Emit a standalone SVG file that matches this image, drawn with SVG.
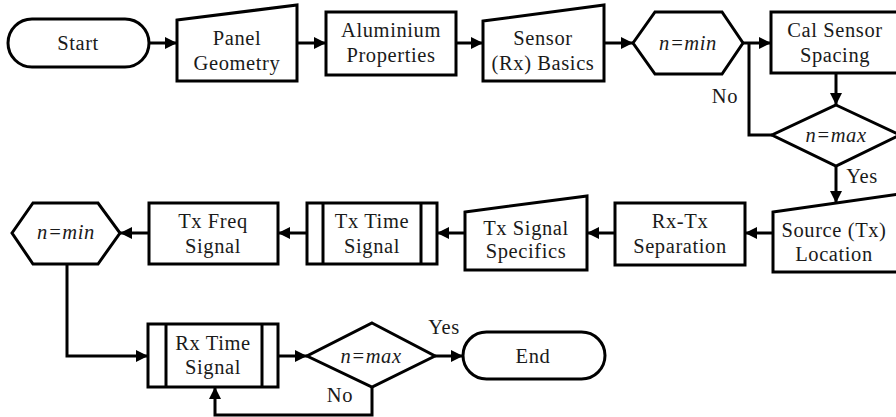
<svg xmlns="http://www.w3.org/2000/svg" width="896" height="417" viewBox="0 0 896 417">
<style>
.s{fill:#fff;stroke:#000;stroke-width:3;stroke-linejoin:miter}
.t{font-family:"Liberation Serif","Times New Roman",serif;font-size:20.5px;letter-spacing:0.6px;fill:#1a1a1a;text-anchor:middle}
.i{font-style:italic}
.l{fill:none;stroke:#000;stroke-width:3}
.a{marker-end:url(#ah)}
</style>
<defs>
<marker id="ah" markerUnits="userSpaceOnUse" markerWidth="13" markerHeight="12" refX="12" refY="6" orient="auto">
<path d="M0,0 L12,6 L0,12 z" fill="#000"/>
</marker>
</defs>
<rect width="896" height="417" fill="#fff"/>
<g id="connectors">
<line class="l a" x1="149" y1="43" x2="177" y2="43"/>
<line class="l a" x1="297" y1="43" x2="326" y2="43"/>
<line class="l a" x1="456" y1="43" x2="483" y2="43"/>
<line class="l a" x1="604" y1="43" x2="633" y2="43"/>
<line class="l a" x1="743" y1="43" x2="771" y2="43"/>
<line class="l a" x1="836" y1="73" x2="836" y2="105"/>
<polyline class="l" points="772,135 749,135 749,43"/>
<line class="l a" x1="836" y1="166" x2="836" y2="203"/>
<line class="l a" x1="773" y1="233" x2="745" y2="233"/>
<line class="l a" x1="615" y1="233" x2="587" y2="233"/>
<line class="l a" x1="465" y1="233" x2="437" y2="233"/>
<line class="l a" x1="307" y1="233" x2="278" y2="233"/>
<line class="l a" x1="149" y1="233" x2="120" y2="233"/>
<polyline class="l a" points="67,264 67,356 148,356"/>
<line class="l a" x1="278" y1="356" x2="307" y2="356"/>
<line class="l a" x1="435" y1="356" x2="463" y2="356"/>
<polyline class="l a" points="372,387 372,415 215,415 215,387"/>
<text class="t" x="725" y="103">No</text>
<text class="t" x="862" y="183">Yes</text>
<text class="t" x="444" y="334">Yes</text>
<text class="t" x="340" y="402">No</text>
</g>
<g id="start">
<rect class="s" x="8" y="19" width="141" height="48" rx="24"/>
<text class="t" x="78" y="50">Start</text>
</g>
<g id="panel">
<polygon class="s" points="177,20 297,5 297,81 177,81"/>
<text class="t" x="237" y="45">Panel</text>
<text class="t" x="237" y="70">Geometry</text>
</g>
<g id="aluminium">
<rect class="s" x="326" y="12" width="130" height="63"/>
<text class="t" x="391" y="37">Aluminium</text>
<text class="t" x="391" y="62">Properties</text>
</g>
<g id="sensor">
<polygon class="s" points="483,21 604,5 604,81 483,81"/>
<text class="t" x="543" y="45">Sensor</text>
<text class="t" x="543" y="70">(Rx) Basics</text>
</g>
<g id="nmin1">
<polygon class="s" points="633,43 655,12 722,12 743,43 722,74 655,74"/>
<text class="t i" x="688" y="50">n=min</text>
</g>
<g id="calsensor">
<rect class="s" x="771" y="12" width="130" height="61"/>
<text class="t" x="835" y="37">Cal Sensor</text>
<text class="t" x="835" y="62">Spacing</text>
</g>
<g id="nmax1">
<polygon class="s" points="836,105 900,135 836,166 772,135"/>
<text class="t i" x="836" y="142">n=max</text>
</g>
<g id="source">
<polygon class="s" points="773,212 900,194 900,272 773,272"/>
<text class="t" x="834" y="237">Source (Tx)</text>
<text class="t" x="834" y="261">Location</text>
</g>
<g id="rxtx">
<rect class="s" x="615" y="203" width="130" height="62"/>
<text class="t" x="680" y="228">Rx-Tx</text>
<text class="t" x="680" y="253">Separation</text>
</g>
<g id="txsignal">
<polygon class="s" points="465,212 587,196 587,270 465,270"/>
<text class="t" x="526" y="235">Tx Signal</text>
<text class="t" x="526" y="258">Specifics</text>
</g>
<g id="txtime">
<rect class="s" x="307" y="203" width="130" height="61"/>
<line class="l" x1="323" y1="203" x2="323" y2="264"/>
<line class="l" x1="421" y1="203" x2="421" y2="264"/>
<text class="t" x="372" y="228">Tx Time</text>
<text class="t" x="372" y="253">Signal</text>
</g>
<g id="txfreq">
<rect class="s" x="149" y="203" width="129" height="61"/>
<text class="t" x="213" y="228">Tx Freq</text>
<text class="t" x="213" y="253">Signal</text>
</g>
<g id="nmin2">
<polygon class="s" points="12,233 33,203 98,203 120,233 98,264 33,264"/>
<text class="t i" x="66" y="239">n=min</text>
</g>
<g id="rxtime">
<rect class="s" x="148" y="324" width="130" height="63"/>
<line class="l" x1="166" y1="324" x2="166" y2="387"/>
<line class="l" x1="262" y1="324" x2="262" y2="387"/>
<text class="t" x="213" y="350">Rx Time</text>
<text class="t" x="213" y="374">Signal</text>
</g>
<g id="nmax2">
<polygon class="s" points="372,323 435,356 372,387 307,356"/>
<text class="t i" x="371" y="363">n=max</text>
</g>
<g id="end">
<rect class="s" x="463" y="332" width="142" height="47" rx="23.5"/>
<text class="t" x="533" y="363">End</text>
</g>
</svg>
